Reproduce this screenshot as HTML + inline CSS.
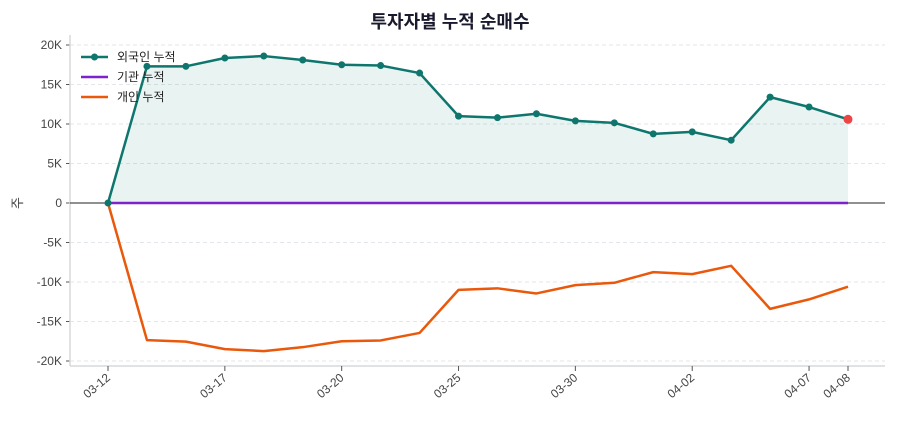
<!DOCTYPE html>
<html><head><meta charset="utf-8"><style>
body{margin:0;background:#fff;font-family:"Liberation Sans","Noto Sans CJK KR",sans-serif;}
svg text{font-family:"Liberation Sans","Noto Sans CJK KR",sans-serif;}
</style></head><body>
<svg id="c" width="900" height="420"></svg>
<script>
const cats=["03-12","03-13","03-14","03-17","03-18","03-19","03-20","03-21","03-24","03-25","03-26","03-27","03-30","03-31","04-01","04-02","04-03","04-04","04-07","04-08"];
const tickIdx=[0,3,6,9,12,15,18,19];
const foreign=[0,17300,17300,18350,18600,18100,17500,17400,16450,11000,10800,11300,10400,10150,8750,9000,7950,13400,12150,10600];
const inst=[0,0,0,0,0,0,0,0,0,0,0,0,0,0,0,0,0,0,0,0];
const indiv=[0,-17350,-17550,-18500,-18750,-18250,-17500,-17400,-16450,-11000,-10800,-11450,-10400,-10100,-8750,-9000,-7950,-13400,-12200,-10600];
const yTicks=[20000,15000,10000,5000,0,-5000,-10000,-15000,-20000];
const yTickLabels=["20K","15K","10K","5K","0","-5K","-10K","-15K","-20K"];
const NS="http://www.w3.org/2000/svg";
const svg=document.getElementById('c');
const L=70,R=885,T=35,B=366;
const x=i=>108+i*(848-108)/(cats.length-1);
const y=v=>203-v*(158/20000);
function mk(t,a,p){const e=document.createElementNS(NS,t);for(const k in a)e.setAttribute(k,a[k]);(p||svg).appendChild(e);return e;}
let t=mk('text',{x:450,y:28,'text-anchor':'middle','font-size':18,'font-weight':'bold',fill:'#1a1a2e'});t.textContent="투자자별 누적 순매수";


yTicks.forEach((v,i)=>{
 if(v!==0){let g=mk('line',{x1:L,x2:R,y1:y(v),y2:y(v),stroke:'#e3e6ea','stroke-dasharray':'4,3'});
 
 }
 mk('line',{x1:L-4,x2:L,y1:y(v),y2:y(v),stroke:'#555'});
 let tx=mk('text',{x:L-8,y:y(v)+4,'text-anchor':'end','font-size':12,fill:'#444'});tx.textContent=yTickLabels[i];
 
 
});
mk('line',{x1:L,x2:L,y1:T,y2:B,stroke:'#d5d8dc','stroke-width':1.5});
mk('line',{x1:L,x2:R,y1:B,y2:B,stroke:'#d5d8dc','stroke-width':1.5});
mk('line',{x1:L,x2:R,y1:y(0),y2:y(0),stroke:'#222','stroke-width':1});
let yl=mk('text',{x:22,y:203,'text-anchor':'middle','font-size':13,fill:'#444',transform:'rotate(-90 22 203)'});yl.textContent="주";


tickIdx.forEach(i=>{
 mk('line',{x1:x(i),x2:x(i),y1:B,y2:B+5,stroke:'#555'});
 let tx=mk('text',{x:x(i)+3,y:B+13,'text-anchor':'end','font-size':12,fill:'#444',transform:`rotate(-40 ${x(i)+3} ${B+13})`});tx.textContent=cats[i];
 
 
});
let area='M'+x(0)+','+y(0)+foreign.map((v,i)=>'L'+x(i)+','+y(v)).join('')+'L'+x(foreign.length-1)+','+y(0)+'Z';
let ar=mk('path',{d:area,fill:'#0f766e','fill-opacity':0.09});


function line(arr,col,name){let p=mk('polyline',{points:arr.map((v,i)=>x(i)+','+y(v)).join(' '),fill:'none',stroke:col,'stroke-width':2.5,'stroke-linejoin':'round'});
 
 }
line(inst,'#7e22ce','institution-line');
line(indiv,'#ea580c','individual-line');
line(foreign,'#0f766e','foreign-line');
foreign.forEach((v,i)=>{let last=i===foreign.length-1;
 let c=mk('circle',{cx:x(i),cy:y(v),r:last?4.5:3.5,fill:last?'#ef4444':'#0f766e'});
 
 });
const leg=[["외국인 누적",'#0f766e',true],["기관 누적",'#7e22ce',false],["개인 누적",'#ea580c',false]];
leg.forEach((l,i)=>{const yy=57+i*20;
 let g=mk('g',{});
 
 
 mk('line',{x1:81,x2:108,y1:yy,y2:yy,stroke:l[1],'stroke-width':2.5},g);
 if(l[2])mk('circle',{cx:94.5,cy:yy,r:3.5,fill:l[1]},g);
 let tx=mk('text',{x:117,y:yy+4,'font-size':12,fill:'#222'},g);tx.textContent=l[0];
});
</script>
</body></html>
